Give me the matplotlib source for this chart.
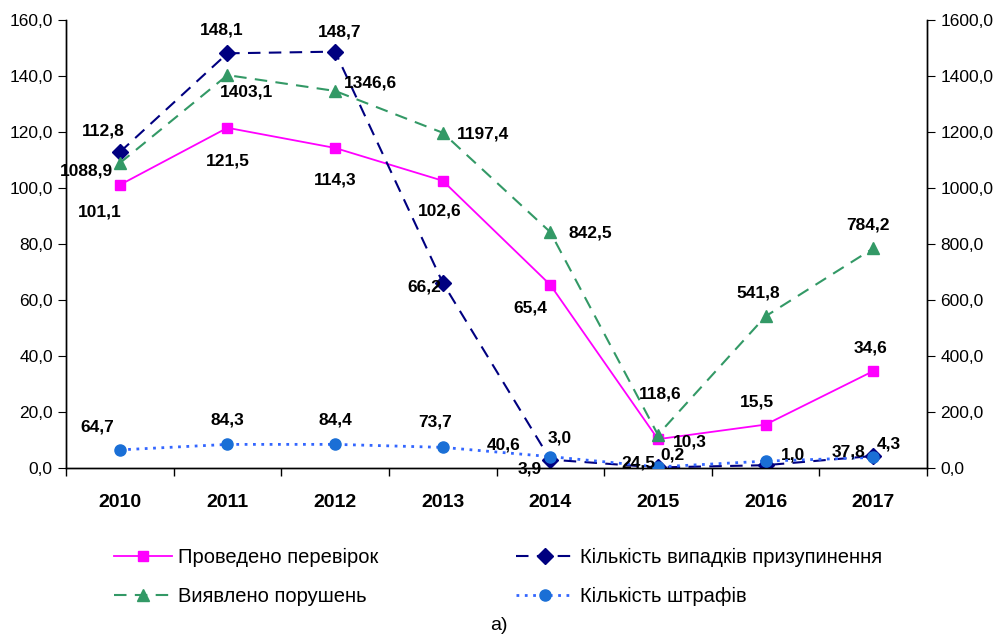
import numpy as np
import matplotlib.pyplot as plt
from matplotlib.ticker import FuncFormatter

plt.rcParams['font.family'] = ['Liberation Sans', 'DejaVu Sans']

years = ['2010', '2011', '2012', '2013', '2014', '2015', '2016', '2017']
perevirok = [101.1, 121.5, 114.3, 102.6, 65.4, 10.3, 15.5, 34.6]
pryzupynennia = [112.8, 148.1, 148.7, 66.2, 3.0, 0.2, 1.0, 4.3]
porushen = [1088.9, 1403.1, 1346.6, 1197.4, 842.5, 118.6, 541.8, 784.2]
shtrafiv = [64.7, 84.3, 84.4, 73.7, 40.6, 3.9, 24.5, 37.8]

names = ['Проведено перевірок', 'Кількість випадків призупинення',
         'Виявлено порушень', 'Кількість штрафів']


def fmt(v, pos=None):
    return f"{v:.1f}".replace('.', ',')


W, H = 997, 638
fig = plt.figure(figsize=(W / 100, H / 100), dpi=100)
ax = fig.add_axes([66 / W, 1 - 468 / H, (927 - 66) / W, (468 - 20) / H])
ax2 = ax.twinx()

x = np.arange(len(years))

l1, = ax.plot(x, perevirok, color='#FF00FF', lw=1.3, marker='s', ms=7.5,
              label=names[0], zorder=4)
l2, = ax.plot(x, pryzupynennia, color='#000080', lw=1.5, ls=(0, (6, 4)),
              marker='D', ms=8, label=names[1], zorder=5)
l3, = ax2.plot(x, porushen, color='#339966', lw=1.5, ls=(0, (6, 4)),
               marker='^', ms=8.5, label=names[2], zorder=4)
l4, = ax2.plot(x, shtrafiv, color='#3366FF', lw=2, ls=(0, (1, 2)),
               marker='o', ms=8, mfc='#1A6FD6', mec='#1A6FD6',
               label=names[3], zorder=5)

ax.set_xlim(-0.5, 7.5)
ax.set_ylim(0, 160)
ax2.set_ylim(0, 1600)
ax.set_yticks(np.arange(0, 161, 20))
ax2.set_yticks(np.arange(0, 1601, 200))
ax.yaxis.set_major_formatter(FuncFormatter(fmt))
ax2.yaxis.set_major_formatter(FuncFormatter(fmt))

ax.set_xticks(x)
ax.set_xticklabels(years, fontweight='bold', fontsize=14)
ax.set_xticks(np.arange(-0.5, 8, 1), minor=True)
ax.tick_params(axis='x', which='major', length=0, pad=19)
ax.tick_params(axis='x', which='minor', length=6, width=1, direction='out')
ax.tick_params(axis='y', length=6, labelsize=12.5, direction='out')
ax2.tick_params(axis='y', length=6, labelsize=12.5, direction='out')

for a in (ax, ax2):
    a.spines['top'].set_visible(False)
    for s in ('left', 'right', 'bottom'):
        a.spines[s].set_color('black')
        a.spines[s].set_linewidth(1)

# label offsets in pixels from the markers (dx right, dy up)
off_per = [(-20, -27), (0, -33), (0, -32), (-3, -30), (-20, -23), (32, -3), (-9, 23), (-3, 23)]
off_pry = [(-17, 21), (-6, 23), (5, 20), (-18, -4), (9, 22), (15, 12), (27, 10), (16, 12)]
off_por = [(-33, -8), (19, -17), (35, 8), (40, -1), (40, -1), (2, 41), (-7, 23), (-5, 23)]
off_sht = [(-23, 23), (0, 24), (0, 24), (-8, 25), (-47, 12), (-128, -2), (-127, -2), (-25, 5)]


def put_labels(axis, vals, offs):
    for xi, v, (dx, dy) in zip(x, vals, offs):
        axis.annotate(fmt(v), (xi, v), xytext=(dx, dy), textcoords='offset pixels',
                      ha='center', va='center', fontsize=12.5, fontweight='bold', zorder=6)


put_labels(ax, perevirok, off_per)
put_labels(ax, pryzupynennia, off_pry)
put_labels(ax2, porushen, off_por)
put_labels(ax2, shtrafiv, off_sht)

fig.legend([l1, l3, l2, l4], [names[0], names[2], names[1], names[3]],
           loc='center', bbox_to_anchor=(498 / W, 1 - 577 / H), ncol=2,
           frameon=False, fontsize=14.5, handlelength=2.9, handletextpad=0.3,
           columnspacing=6.8, labelspacing=1.0)

fig.text(0.5, 1 - 626 / H, 'а)', ha='center', va='center', fontsize=14)

fig.savefig('out.png', dpi=100)
